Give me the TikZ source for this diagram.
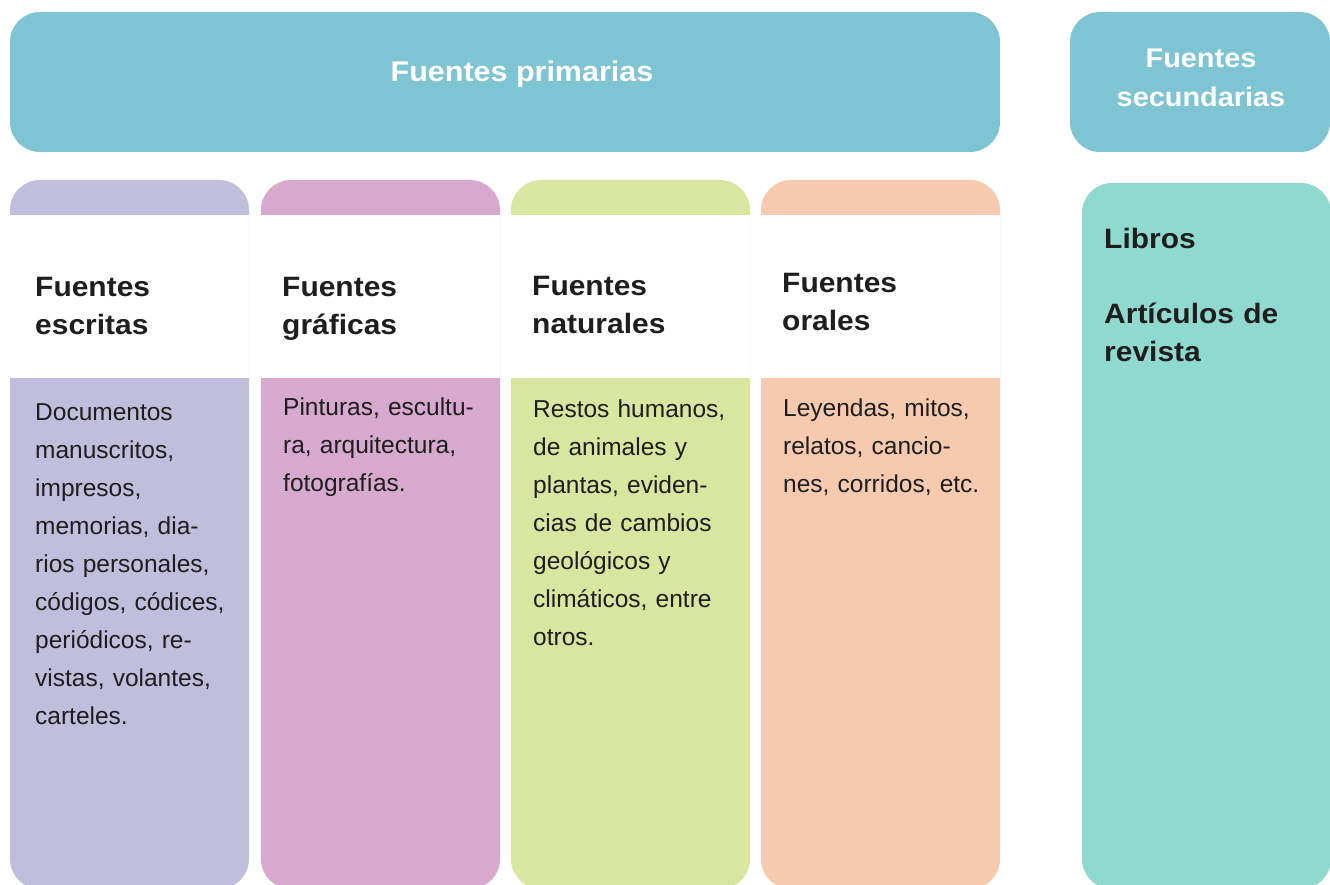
\documentclass[tikz,border=0pt]{standalone}
\usepackage{fontspec}
\setmainfont{Liberation Sans}
\newfontfamily\hfont{Liberation Sans}[FakeStretch=1.07]
\definecolor{bannerc}{HTML}{7FC4D3}
\definecolor{lavc}{HTML}{C1BEDD}
\definecolor{pinkc}{HTML}{D8A9CE}
\definecolor{greenc}{HTML}{D9E69F}
\definecolor{peachc}{HTML}{F7CAB0}
\definecolor{tealc}{HTML}{90D9CE}
\definecolor{inkc}{HTML}{1E1E1E}
\begin{document}
\begin{tikzpicture}[x=1pt,y=-1pt,
  boxr/.style={rounded corners=30pt},
  toptitle/.style={inner sep=0pt, text=white, font=\hfont\bfseries\fontsize{28.5}{35}\selectfont},
  colhead/.style={inner sep=0pt, anchor=base west, text width=230pt, align=left, text=inkc, font=\hfont\bfseries\fontsize{28}{38}\selectfont},
  colbody/.style={inner sep=0pt, anchor=base west, text width=230pt, align=left, text=inkc, font=\fontsize{24.5}{38}\selectfont}]
\useasboundingbox (0,0) rectangle (1330,885);
\fill[white] (0,0) rectangle (1330,885);
% top banners
\fill[bannerc, boxr] (10,12) rectangle (1000,152);
\fill[bannerc, boxr] (1070,12) rectangle (1330,152);
% columns
\fill[lavc, boxr] (10,180) rectangle (249,889);
\fill[pinkc, boxr] (261,180) rectangle (500,889);
\fill[greenc, boxr] (511,180) rectangle (750,889);
\fill[peachc, boxr] (761,180) rectangle (1000,889);
\fill[white] (10,215) rectangle (249,378);
\fill[white] (261,215) rectangle (500,378);
\fill[white] (511,215) rectangle (750,378);
\fill[white] (761,215) rectangle (1000,378);
\fill[tealc, boxr] (1082,183) rectangle (1331,889);
% titles
\node[toptitle, anchor=base] (prim) at (522,82) {Fuentes primarias};
\node[toptitle, anchor=base, text width=250pt, align=center, font=\hfont\bfseries\fontsize{27}{39}\selectfont] (sec) at (1201,68) {Fuentes\\secundarias};
% column headings
\node[colhead] (h1) at (35,297) {Fuentes\\escritas};
\node[colhead] (h2) at (282,297) {Fuentes\\gráficas};
\node[colhead] (h3) at (532,295) {Fuentes\\naturales};
\node[colhead] (h4) at (782,293) {Fuentes\\orales};
\node[colhead] (h5a) at (1104,249) {Libros};
\node[colhead] (h5b) at (1104,323) {Artículos de\\revista};
% bodies
\node[colbody] (b1) at (35,420) {Documentos\\manuscritos,\\impresos,\\memorias, dia-\\rios personales,\\códigos, códices,\\periódicos, re-\\vistas, volantes,\\carteles.};
\node[colbody] (b2) at (283,415) {Pinturas, escultu-\\ra, arquitectura,\\fotografías.};
\node[colbody] (b3) at (533,417) {Restos humanos,\\de animales y\\plantas, eviden-\\cias de cambios\\geológicos y\\climáticos, entre\\otros.};
\node[colbody] (b4) at (783,416) {Leyendas, mitos,\\relatos, cancio-\\nes, corridos, etc.};
\end{tikzpicture}
\end{document}
